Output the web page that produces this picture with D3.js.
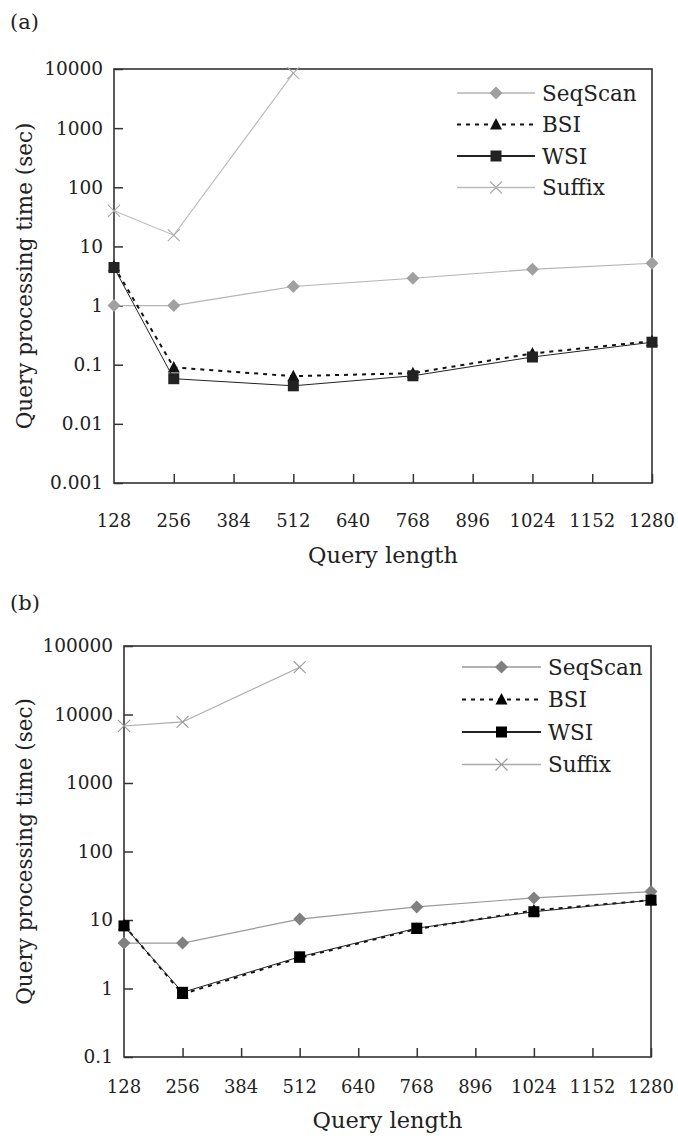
<!DOCTYPE html>
<html><head><meta charset="utf-8">
<script src="https://cdn.jsdelivr.net/npm/d3@7"></script>
<style>body{margin:0;background:#fff}svg{display:block}text{font-family:"DejaVu Serif",serif;fill:#222}</style>
</head><body>
<svg id="c" width="678" height="1143"></svg>
<script>
const queryLengths = [128, 256, 512, 768, 1024, 1280];
const xTicks = [128, 256, 384, 512, 640, 768, 896, 1024, 1152, 1280];
const suffixLengths = [128, 256, 512];

const seqScanA = [1.0, 1.0, 2.1, 2.9, 4.1, 5.2];
const bsiA = [4.6, 0.09, 0.064, 0.072, 0.155, 0.25];
const wsiA = [4.4, 0.058, 0.044, 0.065, 0.135, 0.24];
const suffixA = [40, 15.5, 8500];
const yTicksA = [0.001, 0.01, 0.1, 1, 10, 100, 1000, 10000];

const seqScanB = [4.6, 4.6, 10.3, 15.5, 21, 26];
const bsiB = [8.4, 0.83, 2.8, 7.4, 13.8, 19.5];
const wsiB = [8.2, 0.88, 2.9, 7.6, 13.2, 19.5];
const suffixB = [6800, 7800, 49000];
const yTicksB = [0.1, 1, 10, 100, 1000, 10000, 100000];

const seriesNames = ["SeqScan", "BSI", "WSI", "Suffix"];

const svg = d3.select("#c");

function panel(cfg) {
  const g = svg.append("g");
  const x = d3.scaleLinear().domain([128, 1280]).range([cfg.left, cfg.right]);
  const y = d3.scaleLog().domain(cfg.yDomain).range([cfg.bottom, cfg.top]);

  g.append("text").attr("x", cfg.labelX).attr("y", cfg.labelY).attr("dy", "0.35em").attr("font-size", 21).text(cfg.label);

  // frame
  g.append("rect").attr("x", cfg.left).attr("y", cfg.top)
    .attr("width", cfg.right - cfg.left).attr("height", cfg.bottom - cfg.top)
    .attr("fill", "none").attr("stroke", "#333").attr("stroke-width", 1.6);

  // y axis (inward ticks)
  const ya = g.append("g").attr("transform", `translate(${cfg.left},0)`)
    .call(d3.axisRight(y).tickValues(cfg.yTicks).tickSize(9).tickFormat(() => ""));
  ya.select(".domain").remove();
  ya.selectAll("line").attr("stroke", "#333").attr("stroke-width", 1.5);
  g.selectAll(".ylab").data(cfg.yTicks).join("text")
    .attr("x", cfg.left - 11).attr("y", d => y(d)).attr("dy", "0.35em")
    .attr("text-anchor", "end").attr("font-size", 18.5)
    .text(d => String(d));

  // x axis (inward ticks)
  const xa = g.append("g").attr("transform", `translate(0,${cfg.bottom})`)
    .call(d3.axisTop(x).tickValues(xTicks.slice(1)).tickSize(9).tickFormat(() => ""));
  xa.select(".domain").remove();
  xa.selectAll("line").attr("stroke", "#333").attr("stroke-width", 1.5);
  g.selectAll(".xlab").data(xTicks).join("text")
    .attr("x", d => x(d)).attr("y", cfg.xLabY).attr("dy", "0.35em")
    .attr("text-anchor", "middle").attr("font-size", 18)
    .text(d => String(d));

  g.append("text").attr("x", (cfg.left + cfg.right) / 2).attr("y", cfg.xTitleY)
    .attr("dy", "0.35em").attr("text-anchor", "middle").attr("font-size", 22.5).text("Query length");
  g.append("text").attr("transform", `translate(${cfg.yTitleX},${(cfg.top + cfg.bottom) / 2}) rotate(-90)`)
    .attr("dy", "0.35em").attr("text-anchor", "middle").attr("font-size", 21.5).text("Query processing time (sec)");

  const line = d3.line().x(d => x(d[0])).y(d => y(d[1]));
  const st = cfg.styles;
  const series = [
    {key: "Suffix", xs: suffixLengths, vs: cfg.suffix},
    {key: "SeqScan", xs: queryLengths, vs: cfg.seq},
    {key: "BSI", xs: queryLengths, vs: cfg.bsi},
    {key: "WSI", xs: queryLengths, vs: cfg.wsi}
  ];
  series.forEach(s => {
    const pts = s.xs.map((v, i) => [v, s.vs[i]]);
    const S = st[s.key];
    g.append("path").attr("d", line(pts)).attr("fill", "none")
      .attr("stroke", S.stroke).attr("stroke-width", S.width)
      .attr("stroke-dasharray", S.dash || null);
    pts.forEach(p => drawMarker(g, S.marker, x(p[0]), y(p[1]), S.mfill));
  });

  // legend
  seriesNames.forEach((name, i) => {
    const S = st[name];
    const ly = cfg.legY + i * cfg.legStep;
    g.append("line").attr("x1", cfg.legX1).attr("x2", cfg.legX2).attr("y1", ly).attr("y2", ly)
      .attr("stroke", S.stroke).attr("stroke-width", S.legWidth)
      .attr("stroke-dasharray", S.legDash || null);
    drawMarker(g, S.marker, (cfg.legX1 + cfg.legX2) / 2, ly, S.mfill);
    g.append("text").attr("x", cfg.legX2 + 7).attr("y", ly).attr("dy", "0.35em")
      .attr("font-size", 21.5).text(name);
  });
}

function drawMarker(g, type, cx, cy, fill) {
  if (type === "diamond") {
    g.append("path").attr("d", `M${cx},${cy - 6.5}L${cx + 6.5},${cy}L${cx},${cy + 6.5}L${cx - 6.5},${cy}Z`).attr("fill", fill);
  } else if (type === "square") {
    g.append("rect").attr("x", cx - 5.5).attr("y", cy - 5.5).attr("width", 11).attr("height", 11).attr("fill", fill);
  } else if (type === "triangle") {
    g.append("path").attr("d", `M${cx},${cy - 6.5}L${cx + 6},${cy + 5}L${cx - 6},${cy + 5}Z`).attr("fill", fill);
  } else if (type === "x") {
    g.append("path").attr("d", `M${cx - 6},${cy - 6}L${cx + 6},${cy + 6}M${cx - 6},${cy + 6}L${cx + 6},${cy - 6}`)
      .attr("stroke", fill).attr("stroke-width", 1.1);
  }
}

const stylesA = {
  SeqScan: {stroke: "#b4b4b4", width: 1.2, legWidth: 1.4, marker: "diamond", mfill: "#a0a0a0"},
  BSI: {stroke: "#111", width: 2, dash: "4,5", legWidth: 2, legDash: "4,5", marker: "triangle", mfill: "#111"},
  WSI: {stroke: "#222", width: 1, legWidth: 1.8, marker: "square", mfill: "#222"},
  Suffix: {stroke: "#bbb", width: 1.1, legWidth: 1.4, marker: "x", mfill: "#aaa"}
};
const stylesB = {
  SeqScan: {stroke: "#999", width: 1.2, legWidth: 1.4, marker: "diamond", mfill: "#808080"},
  BSI: {stroke: "#111", width: 2, dash: "4,5", legWidth: 2, legDash: "4,5", marker: "triangle", mfill: "#000"},
  WSI: {stroke: "#222", width: 1, legWidth: 1.8, marker: "square", mfill: "#000"},
  Suffix: {stroke: "#aaa", width: 1.1, legWidth: 1.4, marker: "x", mfill: "#999"}
};

panel({label: "(a)", labelX: 10, labelY: 22, left: 114, right: 652, top: 69, bottom: 483,
  yDomain: [0.001, 10000], yTicks: yTicksA, xLabY: 521, xTitleY: 555, yTitleX: 24,
  seq: seqScanA, bsi: bsiA, wsi: wsiA, suffix: suffixA, styles: stylesA,
  legX1: 457, legX2: 535, legY: 93, legStep: 31.5});

panel({label: "(b)", labelX: 10, labelY: 603, left: 124, right: 651, top: 646, bottom: 1057,
  yDomain: [0.1, 100000], yTicks: yTicksB, xLabY: 1087, xTitleY: 1120, yTitleX: 24,
  seq: seqScanB, bsi: bsiB, wsi: wsiB, suffix: suffixB, styles: stylesB,
  legX1: 462, legX2: 541, legY: 667, legStep: 32.5});
</script>
</body></html>
